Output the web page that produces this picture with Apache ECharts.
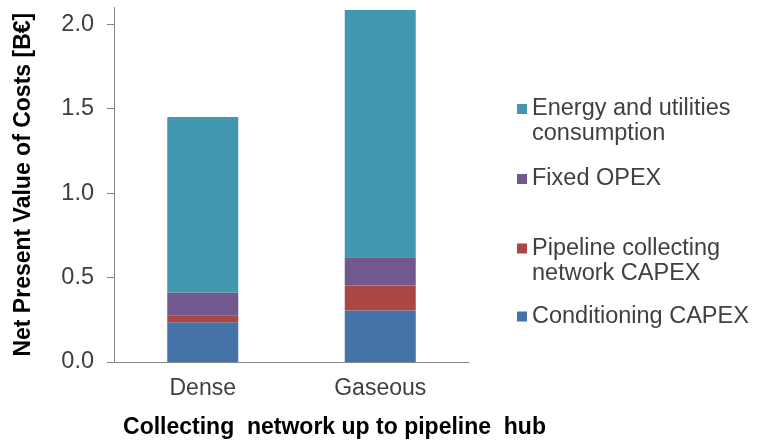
<!DOCTYPE html>
<html>
<head>
<meta charset="utf-8">
<script src="https://cdn.jsdelivr.net/npm/echarts@6/dist/echarts.min.js"></script>
<style>
  html, body { margin: 0; padding: 0; background: #ffffff; }
  #chart { width: 758px; height: 444px; }
</style>
</head>
<body>
<div id="chart"></div>
<script>
// Net present value of costs (B€) by collecting-network option
const categories = ['Dense', 'Gaseous'];
const conditioningCapex = [0.236, 0.305];
const pipelineCapex = [0.041, 0.148];
const fixedOpex = [0.135, 0.168];
const energyUtilities = [1.039, 1.464];
const yTicks = [0, 0.5, 1.0, 1.5, 2.0];

const FONT = '"Liberation Sans", Arial, sans-serif';
const AXIS_GRAY = '#868686';
const TEXT_GRAY = '#404040';

const names = {
  energy: 'Energy and utilities\nconsumption',
  fixed: 'Fixed OPEX',
  pipeline: 'Pipeline collecting\nnetwork CAPEX',
  cond: 'Conditioning CAPEX'
};

function legendAt(name, top, multiLine) {
  return {
    data: [name],
    left: 517,
    top: top,
    orient: 'vertical',
    padding: 0,
    itemWidth: 10,
    itemHeight: 10,
    icon: 'rect',
    selectedMode: false,
    // blank leading line keeps the swatch level with the first text line
    formatter: n => multiLine ? '\n' + n : n,
    textStyle: { fontFamily: FONT, fontSize: 23.5, color: TEXT_GRAY, lineHeight: 25 }
  };
}

const chart = echarts.init(document.getElementById('chart'), null, { renderer: 'canvas' });

chart.setOption({
  animation: false,
  backgroundColor: '#ffffff',
  grid: { left: 114, right: 289, top: 7.4, bottom: 78, containLabel: false },
  legend: [
    legendAt(names.energy, 71.5, true),
    legendAt(names.fixed, 166.5, false),
    legendAt(names.pipeline, 211, true),
    legendAt(names.cond, 304, false)
  ],
  xAxis: {
    type: 'category',
    data: categories,
    name: 'Collecting  network up to pipeline  hub',
    nameLocation: 'middle',
    nameGap: 54,
    nameTextStyle: { fontFamily: FONT, fontSize: 23, fontWeight: 'bold', color: '#000000', padding: [0, 0, 0, 86] },
    axisLine: { lineStyle: { color: AXIS_GRAY, width: 1 } },
    axisTick: { length: 7, lineStyle: { color: AXIS_GRAY } },
    axisLabel: { margin: 15, fontFamily: FONT, fontSize: 23, color: TEXT_GRAY }
  },
  yAxis: {
    type: 'value',
    min: 0,
    max: 2.1,
    interval: 0.5,
    name: 'Net Present Value of Costs [B€]',
    nameLocation: 'middle',
    nameRotate: 90,
    nameGap: 79,
    nameTextStyle: { fontFamily: FONT, fontSize: 23, fontWeight: 'bold', color: '#000000' },
    splitLine: { show: false },
    axisLine: { show: true, lineStyle: { color: AXIS_GRAY, width: 1 } },
    axisTick: { show: true, length: 7, lineStyle: { color: AXIS_GRAY }, customValues: yTicks },
    axisLabel: {
      margin: 20,
      fontFamily: FONT,
      fontSize: 23.5,
      color: TEXT_GRAY,
      customValues: yTicks,
      formatter: v => v.toFixed(1)
    }
  },
  series: [
    { name: names.cond, type: 'bar', stack: 'npv', data: conditioningCapex, barWidth: '40%', itemStyle: { color: '#4572A7' } },
    { name: names.pipeline, type: 'bar', stack: 'npv', data: pipelineCapex, barWidth: '40%', itemStyle: { color: '#AA4643' } },
    { name: names.fixed, type: 'bar', stack: 'npv', data: fixedOpex, barWidth: '40%', itemStyle: { color: '#71588F' } },
    { name: names.energy, type: 'bar', stack: 'npv', data: energyUtilities, barWidth: '40%', itemStyle: { color: '#4198AF' } }
  ]
});
</script>
</body>
</html>
